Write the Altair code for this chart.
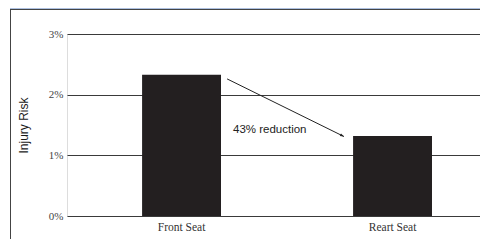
import altair as alt
import pandas as pd

# Data
categories = ["Front Seat", "Reart Seat"]
risk_pct = [2.33, 1.32]
y_ticks = [0, 1, 2, 3]

# Annotation (x in category units: 0 = Front Seat centre, 1 = Reart Seat centre)
arrow_x = [0.216]
arrow_y = [2.26]
arrow_x2 = [0.77]
arrow_y2 = [1.31]
note_text = ["43% reduction"]
note_x = [0.244]
note_y = [1.375]

W, H = 413, 182

bars_df = pd.DataFrame({"seat": categories, "risk": risk_pct})
arrow_df = pd.DataFrame({"x": arrow_x, "y": arrow_y, "x2": arrow_x2, "y2": arrow_y2})
note_df = pd.DataFrame({"x": note_x, "y": note_y, "t": note_text})
one = pd.DataFrame({"k": [0]})

yscale = alt.Scale(domain=[0, 3], nice=False)
ux = alt.Scale(domain=[-0.5427, 1.4147], nice=False, zero=False)

bars = alt.Chart(bars_df).mark_bar(color="#231f20").encode(
    x=alt.X("seat:N", sort=categories, title=None,
            scale=alt.Scale(paddingInner=0.626, paddingOuter=0.2917, align=0.61),
            axis=alt.Axis(labelAngle=0, domain=False, ticks=False, grid=False,
                          labelFont="Liberation Serif", labelFontSize=11.5,
                          labelColor="#333", labelPadding=5)),
    y=alt.Y("risk:Q", scale=yscale, title="Injury Risk",
            axis=alt.Axis(values=y_ticks, labelExpr="datum.value + '%'",
                          domain=False, ticks=False, grid=True,
                          gridColor="#3a3a3a", gridOpacity=1, gridWidth=1,
                          labelFont="Liberation Serif", labelFontSize=11,
                          labelColor="#444", labelPadding=4,
                          titleFont="Liberation Sans", titleFontSize=12,
                          titleFontWeight="normal", titleColor="#1a1a1a",
                          titleX=-44, titleY=H / 2, titleAngle=-90,
                          titleAlign="center", titleBaseline="middle")),
)

arrow = alt.Chart(arrow_df).mark_rule(color="#222", strokeWidth=1).encode(
    x=alt.X("x:Q", scale=ux, axis=None),
    y=alt.Y("y:Q", scale=yscale),
    x2="x2:Q",
    y2="y2:Q",
)

head = alt.Chart(arrow_df).mark_point(
    shape="M0,0L-1,-0.36L-1,0.36Z", filled=True, color="#222", opacity=1,
    size=64, angle=26,
).encode(
    x=alt.X("x2:Q", scale=ux, axis=None),
    y=alt.Y("y2:Q", scale=yscale),
)

note = alt.Chart(note_df).mark_text(
    align="left", baseline="alphabetic", font="Liberation Sans",
    fontSize=11.5, color="#222",
).encode(
    x=alt.X("x:Q", scale=ux, axis=None),
    y=alt.Y("y:Q", scale=yscale),
    text="t:N",
)

# decorative frame
band = alt.Chart(one).mark_rect(color="#adc0e0").encode(
    x=alt.value(-57), x2=alt.value(W), y=alt.value(-27), y2=alt.value(-25)
)
top_line = alt.Chart(one).mark_rule(color="#444", strokeWidth=1).encode(
    x=alt.value(-57), x2=alt.value(W), y=alt.value(-24.5)
)
left_line = alt.Chart(one).mark_rule(color="#444", strokeWidth=1).encode(
    x=alt.value(-56.5), y=alt.value(-25), y2=alt.value(H + 30)
)

chart = alt.layer(bars, arrow, head, note, band, top_line, left_line).resolve_scale(
    x="independent"
).properties(
    width=W, height=H,
    autosize=alt.AutoSizeParams(type="none"),
    padding={"left": 59, "top": 26, "right": 0, "bottom": 23},
).configure_view(stroke=None, clip=False).configure(background="white")

chart.save("out.html", embed_options={"renderer": "svg", "actions": False})
